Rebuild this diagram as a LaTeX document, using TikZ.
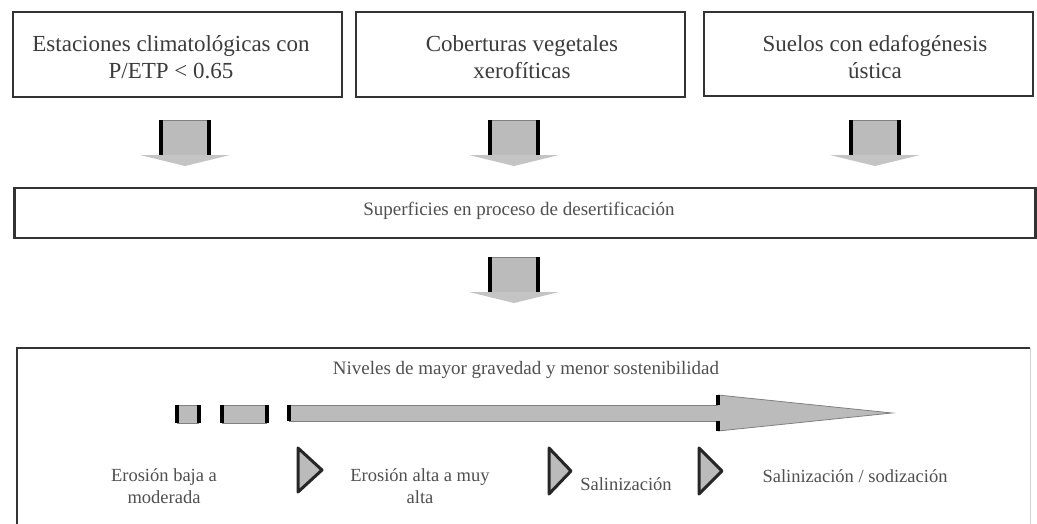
\documentclass[tikz,border=0pt]{standalone}
\usepackage{fontspec}
\setmainfont{Liberation Serif}
\definecolor{boxline}{HTML}{333333}
\definecolor{txt}{HTML}{3C3C3C}
\definecolor{txtb}{HTML}{505050}
\definecolor{fillg}{HTML}{BBBBBB}
\definecolor{headg}{HTML}{C4C4C4}
\tikzset{
  box/.style={draw=boxline, line width=2.5pt, fill=white, inner sep=0pt},
  bigtxt/.style={text=txt, align=center, inner sep=0pt, font=\fontsize{23}{27}\selectfont},
  smalltxt/.style={text=txtb, align=center, inner sep=0pt, font=\fontsize{18.5}{22}\selectfont},
  midtxt/.style={text=txtb, align=center, inner sep=0pt, font=\fontsize{19}{22}\selectfont},
  side/.style={line width=3.5pt, draw=black},
  thinedge/.style={line width=0.8pt, draw=gray},
  tri/.style={fill=fillg, draw=black!85, line width=3pt, line join=round},
  downarr/.pic={
    \fill[fillg] (-24,0) rectangle (24,35);
    \draw[thinedge] (-24,0) -- (24,0);
    \draw[side] (-24,0) -- (-24,35);
    \draw[side] (24,0) -- (24,35);
    \fill[headg] (-45,35) -- (45,35) -- (0,46) -- cycle;
  }
}
\begin{document}
\begin{tikzpicture}[x=1pt,y=-1pt]
\useasboundingbox (0,0) rectangle (1037,523);
\fill[white] (0,0) rectangle (1037,523);

% top boxes
\node[box, minimum width=329pt, minimum height=85pt] (b1) at (177.5,54.5) {};
\node[box, minimum width=329pt, minimum height=85pt] (b2) at (520.5,54.5) {};
\node[box, minimum width=329pt, minimum height=84pt] (b3) at (868.5,54) {};
\node[bigtxt] (t1) at (171,57) {Estaciones climatológicas con\\P/ETP < 0.65};
\node[bigtxt] (t2) at (522,57) {Coberturas vegetales\\xerofíticas};
\node[bigtxt] (t3) at (875,57) {Suelos con edafogénesis\\ústica};

% arrows down
\pic at (185,120) {downarr};
\pic at (514,120) {downarr};
\pic at (875,120) {downarr};

% middle box
\node[box, minimum width=1021pt, minimum height=50pt] (mid) at (525,213) {};
\node[midtxt] (tm) at (519,211) {Superficies en proceso de desertificación};

\pic at (514,257) {downarr};

% bottom box (open at bottom)
\coordinate (bl) at (17,530);
\coordinate (br) at (1030,530);
\draw[boxline, line width=2.5pt] (bl) -- (17,348) -- (1030,348);
\draw[gray!35, line width=1pt] (1030,348) -- (br);

\node[midtxt] (niv) at (526,370) {Niveles de mayor gravedad y menor sostenibilidad};

% level bar
\fill[fillg] (177,405) rectangle (199,423);
\draw[thinedge] (177,405) -- (199,405) (177,423) -- (199,423);
\draw[side] (177,405) -- (177,423) (199,405) -- (199,423);
\fill[fillg] (222,405) rectangle (267,423);
\draw[thinedge] (222,405) -- (267,405) (222,423) -- (267,423);
\draw[side] (222,405) -- (222,423) (267,405) -- (267,423);
\fill[fillg] (289,405) rectangle (718,421);
\draw[thinedge] (289,405) -- (718,405) (289,421) -- (718,421);
\draw[side] (289,405) -- (289,421);
\fill[fillg] (718,395) -- (892,413) -- (718,431) -- cycle;
\draw[thinedge] (718,395) -- (892,413) -- (718,431);
\draw[side] (718,395) -- (718,405) (718,421) -- (718,431);

% triangles
\draw[tri] (298,448) -- (322,470) -- (298,492) -- cycle;
\draw[tri] (549,448) -- (571,471) -- (549,494) -- cycle;
\draw[tri] (699,448) -- (722,471) -- (699,494) -- cycle;

% labels
\node[smalltxt] (l1) at (164,486) {Erosión baja a\\moderada};
\node[smalltxt] (l2) at (420,486) {Erosión alta a muy\\alta};
\node[smalltxt] (l3) at (626,484) {Salinización};
\node[smalltxt] (l4) at (855,476) {Salinización / sodización};
\end{tikzpicture}
\end{document}
